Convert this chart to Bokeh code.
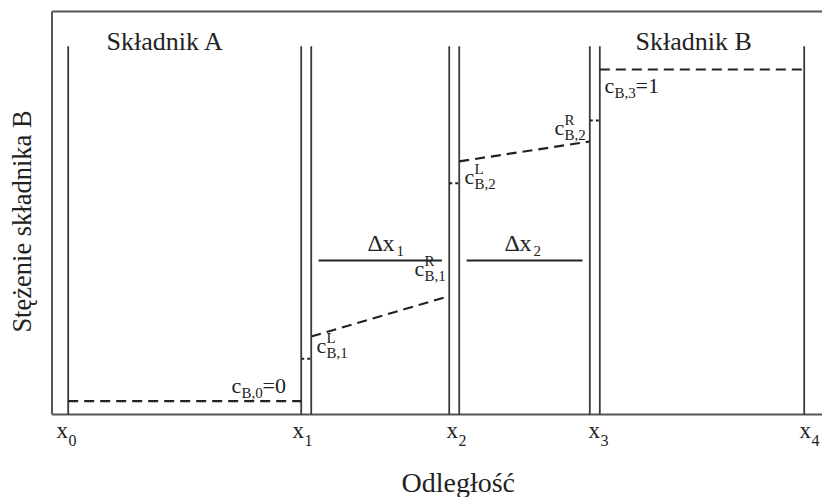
from bokeh.plotting import figure
from bokeh.models import Range1d, Label
from bokeh.embed import file_html
from bokeh.resources import INLINE

# Interface positions x_0 .. x_4 (distance, arbitrary units)
boundary_x = [0.0, 31.66, 51.77, 70.87, 100.0]
boundary_tags = ["0", "1", "2", "3", "4"]
film_width = 1.36          # thickness of the interface films at x_1, x_2, x_3

# Concentrations of component B
c_bulk_A = 0.0             # c_B,0
c_bulk_B = 1.0             # c_B,3
c_film = [0.128, 0.657, 0.846]     # inside the films at x_1, x_2, x_3
c_left = [0.195, 0.723]            # c^L_B,1 , c^L_B,2
c_right = [0.317, 0.783]           # c^R_B,1 , c^R_B,2

INK = "#222222"
LINE = "#3a3a3a"
FONT = "Liberation Serif"

W, H = 822, 497
# data window covering the whole canvas
X0, X1 = -9.198, 102.486
Y0, Y1 = -0.2903, 1.2080
# open frame of the diagram
frame_left, frame_bottom, frame_top = -2.201, -0.0401, 1.1749
wall_top = 1.07
bar_level = 0.424
bar_inset = 1.0

p = figure(width=W, height=H, output_backend="svg", toolbar_location=None,
           x_range=Range1d(X0, X1), y_range=Range1d(Y0, Y1),
           min_border=0, min_border_left=0, min_border_right=0,
           min_border_top=0, min_border_bottom=0)
p.axis.visible = False
p.grid.visible = False
p.outline_line_color = None
p.background_fill_color = "white"
p.border_fill_color = "white"

# frame: left edge, bottom and top edges running off to the right
p.segment(x0=[frame_left, frame_left, frame_left],
          y0=[frame_bottom, frame_bottom, frame_top],
          x1=[frame_left, X1, X1],
          y1=[frame_top, frame_bottom, frame_top],
          line_color="#555555", line_width=2)

# walls: single lines at x_0 and x_4, double lines at the interfaces
walls = [boundary_x[0]]
for b in boundary_x[1:4]:
    walls += [b, b + film_width]
walls.append(boundary_x[4])
p.segment(x0=walls, y0=[frame_bottom] * len(walls), x1=walls, y1=[wall_top] * len(walls),
          line_color=LINE, line_width=1.8)

# bulk concentrations of the two components
p.segment(x0=[boundary_x[0], boundary_x[3] + film_width],
          y0=[c_bulk_A, c_bulk_B],
          x1=[boundary_x[1], boundary_x[4]],
          y1=[c_bulk_A, c_bulk_B],
          line_color=INK, line_width=2.2, line_dash="10 6")

# linear profiles across the two layers
p.segment(x0=[boundary_x[1] + film_width, boundary_x[2] + film_width],
          y0=c_left,
          x1=[boundary_x[2], boundary_x[3]],
          y1=c_right,
          line_color=INK, line_width=2.2, line_dash="10 6")

# levels inside the interface films
p.segment(x0=boundary_x[1:4], y0=c_film,
          x1=[b + film_width for b in boundary_x[1:4]], y1=c_film,
          line_color=INK, line_width=2, line_dash="3 3")

# layer thickness bars
p.segment(x0=[boundary_x[1] + film_width + bar_inset, boundary_x[2] + film_width + bar_inset],
          y0=[bar_level, bar_level],
          x1=[boundary_x[2] - bar_inset, boundary_x[3] - bar_inset],
          y1=[bar_level, bar_level],
          line_color=INK, line_width=2)


def sx(px):
    return X0 + px / W * (X1 - X0)


def sy(py):
    return Y1 - py / H * (Y1 - Y0)


LIFT = 0.34   # label boxes sit below the alphabetic baseline by about this fraction of the size


def put(text, size, left, base, rotated=False, align="left"):
    if rotated:
        x, y, angle = left - LIFT * size, base, 1.5708
    else:
        x, y, angle = left, base - LIFT * size, 0.0
    p.add_layout(Label(x=sx(x), y=sy(y), text=text, text_font=FONT,
                       text_font_size=f"{size}px", text_color=INK,
                       text_baseline="alphabetic", text_align=align, angle=angle))


# component names
put("Składnik A", 26, 106, 50)
put("Składnik B", 26, 635, 50)

# axis titles
put("Odległość", 28, 401, 492)
put("Stężenie składnika B", 26.5, 31, 221, rotated=True, align="center")

# x_i labels under the walls
tick_left = [56, 292, 446, 588, 799]
for tag, left in zip(boundary_tags, tick_left):
    put("x", 23, left, 438)
    put(tag, 16, left + 12, 445)

# layer thickness labels
put("Δ", 24, 367, 251)
put("x", 24, 382, 251)
put("1", 15, 396, 256)
put("Δ", 24, 504, 251)
put("x", 24, 519, 251)
put("2", 15, 533, 256)


def conc(left, base, sup=None, sub="", tail=None):
    put("c", 22, left, base)
    if sup:
        put(sup, 15, left + 10, base - 9)
    put(sub, 15, left + 10, base + 6)
    if tail:
        put(tail, 22, left + 31, base)


conc(231, 392, sub="B,0", tail="=0")
conc(316, 352, sup="L", sub="B,1")
conc(414, 275, sup="R", sub="B,1")
conc(464, 183, sup="L", sub="B,2")
conc(554, 134, sup="R", sub="B,2")
conc(604, 92, sub="B,3", tail="=1")

open("out.html", "w").write(file_html(p, INLINE))
